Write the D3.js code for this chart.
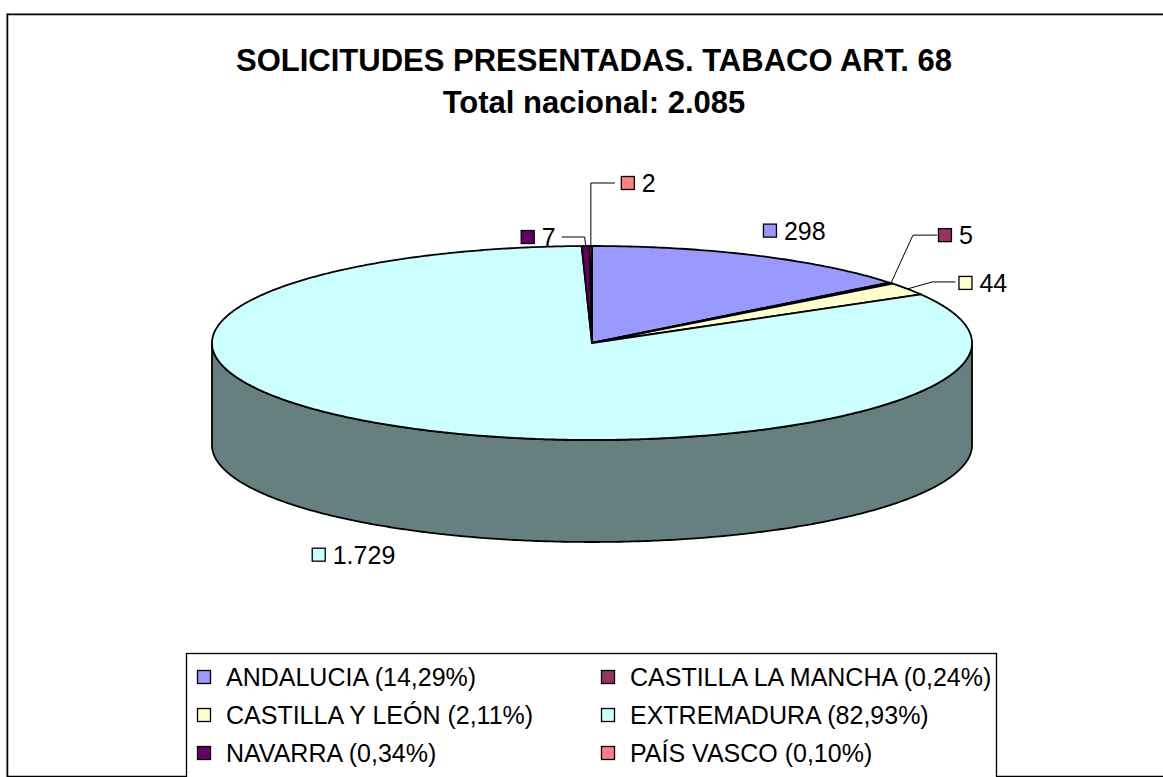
<!DOCTYPE html>
<html><head><meta charset="utf-8">
<script src="https://cdn.jsdelivr.net/npm/d3@7"></script>
<style>body{margin:0;background:#fff}svg{display:block}text{font-family:Arial,"Liberation Sans",sans-serif}</style>
</head><body>
<svg id="c" width="1163" height="777"></svg>
<script>
const categories = ["ANDALUCIA","CASTILLA LA MANCHA","CASTILLA Y LEÓN","EXTREMADURA","NAVARRA","PAÍS VASCO"];
const values = [298, 5, 44, 1729, 7, 2];
const valueLabels = ["298","5","44","1.729","7","2"];
const percentLabels = ["14,29%","0,24%","2,11%","82,93%","0,34%","0,10%"];
const colors = ["#9999FF","#993366","#FFFFCC","#CCFFFF","#660066","#FF8080"];
const titleLines = ["SOLICITUDES PRESENTADAS. TABACO ART. 68","Total nacional: 2.085"];

// layout of data labels relative to the slice's rim point (not data)
const labelLayout = [
  {dx:6, dy:-17, leader:null},
  {leader:[[22,-48],[46,-48]], dx:47, dy:-40},
  {leader:[[25,-7],[48,-7]], dx:51, dy:2},
  {dx:-95, dy:33, leader:null, bottom:true},
  {leader:[[-1,-9],[-24,-9]], dx:-65, dy:-1},
  {leader:[[0,-63],[24,-63]], dx:30, dy:-55}
];

const svg = d3.select("#c");

// outer frame
svg.append("rect").attr("x",6.5).attr("y",13.5).attr("width",1170).attr("height",764)
  .attr("fill","none").attr("stroke","#aaa").attr("stroke-width",1);
svg.append("rect").attr("x",7.5).attr("y",14.5).attr("width",1170).attr("height",762)
  .attr("fill","#fff").attr("stroke","#000").attr("stroke-width",1.5);

// title
svg.append("text").attr("x",594).attr("y",71).attr("text-anchor","middle")
  .attr("font-weight","bold").attr("font-size",31).text(titleLines[0]);
svg.append("text").attr("x",594).attr("y",113).attr("text-anchor","middle")
  .attr("font-weight","bold").attr("font-size",31).text(titleLines[1]);

// 3D pie
const cx = 592, cy = 343, rx = 380, ry = 97, depth = 102;
const pie = d3.pie().sort(null).value(d=>d).startAngle(0).endAngle(2*Math.PI);
const arcs = pie(values);
const px = a => cx + rx*Math.sin(a);
const py = a => cy - ry*Math.cos(a);
const line = d3.line();

function arcPts(a0,a1,off){
  const n = Math.max(2, Math.ceil(Math.abs(a1-a0)/0.01));
  return d3.range(n+1).map(i=>{const a=a0+(a1-a0)*i/n; return [px(a), py(a)+off];});
}

// side wall (front half, visible)
arcs.forEach((d,i)=>{
  const a0 = Math.max(d.startAngle, Math.PI/2), a1 = Math.min(d.endAngle, 3*Math.PI/2);
  if (a1 <= a0) return;
  const top = arcPts(a0,a1,0), bot = arcPts(a1,a0,depth);
  const c = d3.color(colors[i]); const dark = d3.rgb(c.r*0.5,c.g*0.5,c.b*0.5);
  svg.append("path").attr("d", line(top.concat(bot))+"Z")
    .attr("fill", dark).attr("stroke","#000").attr("stroke-width",1.8).attr("stroke-linejoin","round");
});

// top faces
arcs.forEach((d,i)=>{
  const pts = [[cx,cy]].concat(arcPts(d.startAngle,d.endAngle,0));
  svg.append("path").attr("d", line(pts)+"Z")
    .attr("fill", colors[i]).attr("stroke","#000").attr("stroke-width",1.8).attr("stroke-linejoin","round");
});

// data labels
arcs.forEach((d,i)=>{
  const m = (d.startAngle+d.endAngle)/2;
  const L = labelLayout[i];
  const rxp = px(m), ryp = py(m) + (L.bottom?depth:0);
  if (L.leader){
    const pts = [[rxp,ryp]].concat(L.leader.map(p=>[rxp+p[0], ryp+p[1]]));
    svg.append("path").attr("d",line(pts)).attr("fill","none").attr("stroke","#000").attr("stroke-width",1);
  }
  const x0 = rxp + L.dx, by = ryp + L.dy;
  svg.append("rect").attr("x",x0+0.5).attr("y",by-14.5).attr("width",13).attr("height",13)
    .attr("fill",colors[i]).attr("stroke","#000").attr("stroke-width",1.3);
  svg.append("text").attr("x",x0+21).attr("y",by+1).attr("font-size",25).text(valueLabels[i]);
});

// legend
const lg = svg.append("g");
lg.append("rect").attr("x",186.5).attr("y",653.5).attr("width",810).attr("height",130)
  .attr("fill","#fff").attr("stroke","#000").attr("stroke-width",1.3);
const colX = d3.scalePoint().domain([0,1]).range([197,601]);
const rowY = d3.scalePoint().domain([0,1,2]).range([677,753]);
categories.forEach((c,i)=>{
  const x = colX(i%2), y = rowY(Math.floor(i/2));
  lg.append("rect").attr("x",x+0.5).attr("y",y-6.5).attr("width",13).attr("height",13)
    .attr("fill",colors[i]).attr("stroke","#000").attr("stroke-width",1.3);
  lg.append("text").attr("x",x+29).attr("y",y+9).attr("font-size",25).text(`${c} (${percentLabels[i]})`);
});
</script>
</body></html>
